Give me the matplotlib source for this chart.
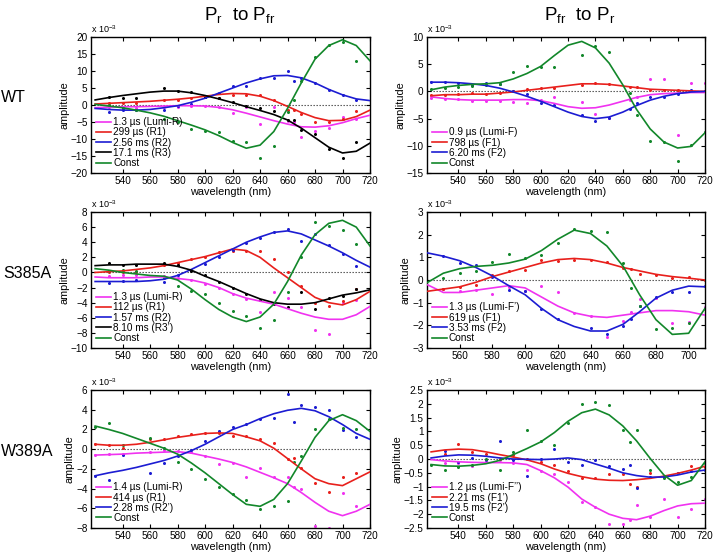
import numpy as np
import matplotlib
matplotlib.use('Agg')
import matplotlib.pyplot as plt

plt.rcParams['font.family'] = ['Liberation Sans', 'DejaVu Sans']
plt.rcParams['mathtext.fontset'] = 'custom'
plt.rcParams['mathtext.rm'] = 'Liberation Sans'

# ── fitted curves (x 1e-3), sampled every 10 nm ──
line_wl = [520, 530, 540, 550, 560, 570, 580, 590, 600, 610, 620,
           630, 640, 650, 660, 670, 680, 690, 700, 710, 720]
line_wl_s385a_rev = [540, 550, 560, 570, 580, 590, 600, 610, 620,
                     630, 640, 650, 660, 670, 680, 690, 700, 710]

wt_fwd_lines = [
    [-0.8, -0.6, -0.5, -0.5, -0.4, -0.3, -0.2, -0.2, -0.3, -0.7, -1.4, -2.4, -3.5, -4.6, -5.6, -6.4, -6.5, -6.1, -5.2, -4.0, -3.0],
    [0.3, 0.5, 0.7, 0.9, 1.1, 1.4, 1.7, 2.1, 2.6, 3.1, 3.4, 3.3, 2.6, 1.3, -0.4, -2.2, -3.7, -4.6, -4.5, -3.4, -1.5],
    [-1.0, -1.3, -1.5, -1.5, -1.3, -0.8, -0.2, 0.8, 2.0, 3.5, 5.0, 6.5, 7.7, 8.6, 8.7, 8.0, 6.5, 4.6, 3.0, 1.8, 1.3],
    [1.5, 2.2, 2.8, 3.3, 3.8, 4.1, 4.1, 3.6, 2.8, 1.8, 0.7, -0.5, -1.6, -2.8, -4.4, -6.8, -9.6, -12.4, -14.1, -13.6, -11.2],
    [0.2, -0.3, -0.8, -1.5, -2.3, -3.3, -4.6, -5.9, -7.3, -9.0, -11.0, -12.7, -11.8, -7.8, -1.0, 6.5, 13.5, 17.5, 19.2, 17.5, 13.0],
]
wt_rev_lines = [
    [-1.0, -1.3, -1.5, -1.6, -1.6, -1.6, -1.5, -1.5, -1.7, -2.2, -2.8, -3.1, -3.0, -2.5, -1.8, -1.1, -0.6, -0.4, -0.3, -0.2, -0.2],
    [-0.8, -0.6, -0.6, -0.5, -0.5, -0.3, -0.1, 0.2, 0.5, 0.8, 1.1, 1.4, 1.4, 1.3, 1.0, 0.7, 0.4, 0.3, 0.2, 0.1, 0.0],
    [1.7, 1.7, 1.6, 1.4, 1.1, 0.6, -0.1, -0.9, -1.8, -2.8, -3.8, -4.6, -5.0, -4.7, -3.8, -2.6, -1.6, -0.9, -0.4, -0.1, 0.0],
    [0.3, 0.8, 1.1, 1.3, 1.4, 1.6, 2.3, 3.3, 4.6, 6.6, 8.5, 9.2, 8.0, 5.2, 1.2, -3.3, -6.9, -9.3, -10.4, -10.1, -7.6],
]
s385a_fwd_lines = [
    [-0.6, -0.7, -0.7, -0.7, -0.6, -0.6, -0.8, -1.0, -1.4, -2.0, -2.8, -3.4, -3.8, -4.2, -4.8, -5.4, -5.9, -6.2, -6.2, -5.6, -4.5],
    [0.0, 0.1, 0.2, 0.4, 0.6, 0.9, 1.3, 1.7, 2.1, 2.6, 3.1, 2.9, 2.0, 0.6, -0.7, -2.0, -3.3, -4.0, -4.3, -3.6, -2.5],
    [-1.2, -1.2, -1.2, -1.2, -1.1, -0.9, -0.4, 0.4, 1.3, 2.2, 3.1, 4.0, 4.7, 5.3, 5.5, 5.1, 4.3, 3.5, 2.6, 1.6, 0.7],
    [0.9, 1.0, 1.0, 1.1, 1.1, 1.1, 0.8, 0.3, -0.5, -1.2, -2.0, -2.8, -3.5, -4.0, -4.2, -4.2, -4.0, -3.5, -3.0, -2.7, -2.3],
    [0.5, 0.3, 0.0, -0.2, -0.4, -0.5, -1.0, -2.2, -3.6, -4.9, -5.9, -6.5, -5.9, -4.2, -1.2, 2.3, 5.0, 6.5, 6.9, 6.0, 3.5],
]
s385a_rev_lines = [
    [-0.2, -0.55, -0.55, -0.45, -0.35, -0.25, -0.35, -0.75, -1.15, -1.45, -1.6, -1.65, -1.55, -1.45, -1.35, -1.35, -1.4, -1.55],
    [-0.5, -0.4, -0.3, -0.1, 0.15, 0.35, 0.55, 0.75, 0.9, 0.95, 0.9, 0.75, 0.55, 0.4, 0.25, 0.15, 0.08, 0.0],
    [1.2, 1.05, 0.85, 0.55, 0.18, -0.25, -0.65, -1.25, -1.75, -2.05, -2.25, -2.25, -1.95, -1.4, -0.8, -0.45, -0.27, -0.3],
    [-0.12, 0.3, 0.5, 0.6, 0.65, 0.75, 0.92, 1.3, 1.8, 2.2, 2.05, 1.5, 0.6, -0.65, -1.75, -2.4, -2.35, -1.25],
]
w389a_fwd_lines = [
    [-0.6, -0.55, -0.5, -0.4, -0.35, -0.3, -0.25, -0.4, -0.7, -1.0, -1.35, -1.8, -2.35, -2.9, -3.5, -4.4, -5.4, -6.3, -6.75, -6.3, -5.6],
    [0.5, 0.4, 0.4, 0.5, 0.7, 0.95, 1.2, 1.4, 1.6, 1.65, 1.6, 1.25, 0.85, 0.1, -0.95, -2.0, -3.0, -3.5, -3.7, -3.0, -2.3],
    [-2.7, -2.4, -2.15, -1.85, -1.5, -1.15, -0.7, -0.15, 0.5, 1.25, 2.0, 2.5, 3.1, 3.6, 3.95, 4.15, 3.9, 3.3, 2.5, 1.6, 1.0],
    [2.35, 2.0, 1.6, 1.1, 0.6, 0.1, -0.5, -1.4, -2.4, -3.5, -4.6, -5.6, -5.8, -5.1, -3.5, -1.2, 1.2, 2.9, 3.5, 2.9, 1.8],
]
w389a_rev_lines = [
    [-0.02, -0.07, -0.1, -0.12, -0.13, -0.13, -0.14, -0.2, -0.42, -0.68, -1.02, -1.45, -1.75, -2.0, -2.15, -2.2, -2.07, -1.87, -1.7, -1.62, -1.6],
    [0.26, 0.33, 0.36, 0.34, 0.26, 0.16, 0.07, -0.03, -0.17, -0.36, -0.52, -0.64, -0.73, -0.77, -0.78, -0.75, -0.7, -0.62, -0.52, -0.4, -0.26],
    [0.04, 0.11, 0.15, 0.14, 0.1, 0.04, 0.0, -0.01, -0.02, 0.0, 0.04, -0.02, -0.18, -0.33, -0.5, -0.6, -0.66, -0.65, -0.58, -0.47, -0.4],
    [-0.2, -0.25, -0.26, -0.23, -0.17, -0.05, 0.16, 0.38, 0.62, 0.96, 1.37, 1.68, 1.81, 1.6, 1.2, 0.66, 0.02, -0.58, -0.95, -0.78, -0.1],
]

# ── measured amplitudes (x 1e-3) ──
nan = np.nan
wt_fwd_wl = [530, 540, 550, 570, 580, 590, 600, 610, 620, 630, 640, 650, 660, 665, 670, 680, 690, 700, 710]
wt_fwd_pts = [
    [-0.5, -0.8, -1.0, -0.5, -0.5, -0.3, -0.3, -0.5, -2.2, -0.5, -5.7, -0.5, -4.8, -5.0, -9.3, -7.5, -6.8, -3.5, -4.0],
    [0.5, 0.5, 0.5, 1.5, 1.5, 2.0, 2.5, 2.0, 3.0, 3.0, 3.0, 1.5, -1.5, -1.5, -2.5, -5.0, -5.0, -4.0, -1.7],
    [-2.0, -1.5, -1.5, -1.5, -0.3, 0.3, 2.5, 3.5, 5.5, 5.5, 8.0, 8.0, 10.0, 7.0, 8.0, 6.5, 4.5, 3.0, 1.5],
    [2.5, 2.0, 2.0, 5.0, 4.0, 3.8, 2.5, 2.0, 1.0, -0.3, -0.8, -1.8, -4.5, -4.5, -7.3, -8.5, -13.0, -15.5, -11.0],
    [0.0, -1.0, -1.5, -4.0, -5.0, -7.0, -7.5, -8.0, -10.5, -11.0, -15.5, -12.0, -2.0, 1.5, 7.0, 14.0, 17.8, 18.5, 13.0],
]
wt_rev_wl = [520, 530, 540, 550, 560, 570, 580, 590, 600, 610, 630, 640, 650, 665, 670, 680, 690, 700, 710, 720]
wt_rev_pts = [
    [-1.2, -1.3, -1.3, -1.8, -1.8, -1.7, -1.9, -2.1, -1.5, -1.0, -2.0, -4.2, -4.8, -1.5, -1.0, 2.2, 2.2, -8.0, 1.5, 1.5],
    [-0.6, -0.6, -0.4, -0.2, -0.4, -0.2, 0.1, 0.5, 0.6, 0.7, 1.1, 1.5, 1.4, 0.9, 0.8, 0.3, 0.2, 0.3, 0.1, 0.0],
    [1.7, 1.7, 1.5, 1.1, 1.5, 1.3, 0.0, -0.4, -2.1, -2.5, -4.4, -5.4, -4.9, -3.3, -2.2, -1.1, -1.0, -0.5, 0.2, 0.0],
    [0.5, 0.6, 0.8, 1.0, 1.2, 1.4, 3.6, 4.6, 4.4, 4.5, 6.7, 8.4, 7.3, -0.3, -4.4, -9.2, -9.3, -12.8, -9.8, -7.4],
]
s385a_fwd_wl = [530, 540, 550, 570, 580, 590, 600, 610, 620, 630, 640, 650, 660, 670, 680, 690, 700, 710]
s385a_fwd_pts = [
    [-0.5, -0.4, -0.4, -0.5, -0.8, -1.0, -1.5, -2.0, -2.9, -3.5, -5.3, -2.6, -3.4, -4.6, -7.6, -8.1, -4.0, -3.7],
    [0.1, 0.1, 0.0, 1.0, 1.3, 1.8, 2.1, 2.7, 2.8, 2.8, 2.9, 1.8, 0.0, -1.8, -4.0, -4.5, -3.8, -2.2],
    [-1.4, -1.1, -1.0, -1.3, -0.4, 0.3, 1.1, 2.0, 3.0, 3.9, 4.6, 5.3, 5.8, 4.1, 5.1, 3.6, 2.4, 0.8],
    [1.2, 1.0, 1.0, 1.3, 1.0, 0.2, -0.4, -1.2, -2.0, -2.9, -3.7, -4.2, -4.6, -2.6, -4.8, -3.4, -3.1, -2.2],
    [0.2, 0.3, 0.2, -0.8, -1.8, -2.5, -2.9, -4.0, -5.1, -5.8, -7.4, -6.3, -2.6, 2.0, 6.7, 6.1, 5.6, 3.8],
]
s385a_rev_wl = [550, 560, 570, 580, 590, 600, 610, 620, 630, 640, 650, 660, 665, 670, 680, 690, 700, 710]
s385a_rev_pts = [
    [-0.4, -0.5, -0.45, -0.6, -0.3, -0.5, -0.25, -0.55, -1.45, -1.6, -2.5, -1.8, -1.4, -0.85, -0.8, -1.9, -1.85, -1.2],
    [-0.4, -0.3, -0.2, 0.2, 0.4, 0.45, 0.9, 0.85, 0.9, 0.9, 0.8, 0.55, 0.5, 0.25, 0.2, 0.1, 0.15, 0.0],
    [1.05, 0.75, 0.65, 0.15, -0.45, -0.5, -1.3, -1.7, nan, -2.1, -2.4, -2.05, -1.7, -1.15, -0.75, -0.55, -0.55, -0.25],
    [0.1, 0.3, 0.4, 0.8, 1.15, 0.95, 1.1, 1.65, 2.25, 2.15, 2.1, 0.75, -0.35, -1.15, -2.15, -2.1, -1.9, -1.3],
]
w389a_fwd_wl = [520, 530, 540, 560, 570, 580, 590, 600, 610, 620, 630, 640, 650, 660, 665, 670, 680, 690, 700, 710]
w389a_fwd_pts = [
    [-0.6, -0.5, -0.5, -0.3, -0.1, -0.2, -0.3, -0.7, -1.5, -1.4, -2.8, -1.9, -2.8, -2.8, -3.8, -4.0, -7.8, -8.0, -4.4, -5.8],
    [0.5, 0.4, 0.1, 1.0, 1.0, 1.3, 1.5, 1.6, 1.6, 1.3, 1.3, 1.0, 0.6, -1.0, -0.9, -1.9, -3.4, -4.3, -2.8, -2.4],
    [-2.7, -3.1, -0.6, -2.4, -1.4, -0.7, -0.1, 0.8, 1.8, 2.3, 2.6, 3.1, 3.2, 5.6, 2.8, 4.5, 4.3, 4.0, 1.9, 1.2],
    [2.3, 2.7, 0.4, 1.1, 0.1, -1.3, -2.0, -3.0, -3.8, -4.5, -5.2, -6.1, -5.8, -5.3, -1.3, -0.7, 2.0, 3.1, 2.2, 2.1],
]
w389a_rev_wl = [520, 530, 540, 550, 560, 570, 580, 590, 600, 610, 620, 630, 640, 650, 660, 665, 670, 680, 690, 700, 710, 720]
w389a_rev_pts = [
    [nan, -0.15, -0.15, -0.25, -0.05, -0.05, -0.15, -0.4, -0.45, -0.55, -0.85, -1.55, -1.75, -2.35, -2.35, -2.2, -1.65, -2.1, -1.45, -2.1, -1.8, -1.45],
    [nan, 0.2, 0.55, 0.25, 0.2, 0.0, 0.15, 0.0, -0.1, -0.2, -0.45, -0.7, -0.7, -0.55, -0.55, -0.9, -1.0, -0.5, -0.65, -0.5, -0.25, -0.3],
    [nan, 0.3, -0.1, 0.05, -0.05, 0.65, -0.05, -0.6, 0.0, 0.35, -0.1, -0.2, -0.05, -0.25, -0.35, -0.2, -1.05, -0.65, -0.65, -0.5, -0.45, -0.4],
    [-0.2, -0.4, -0.3, -0.2, 0.0, -0.4, 0.25, 1.05, 0.65, 0.5, 1.3, 2.0, 2.05, 1.95, 1.05, 0.6, 1.05, -0.4, -0.7, -0.85, -0.65, -0.15],
]

wt_fwd_labels = ['1.3 µs (Lumi-R)', '299 µs (R1)', '2.56 ms (R2)', '17.1 ms (R3)', 'Const']
wt_rev_labels = ['0.9 µs (Lumi-F)', '798 µs (F1)', '6.20 ms (F2)', 'Const']
s385a_fwd_labels = ['1.3 µs (Lumi-R)', '112 µs (R1)', '1.57 ms (R2)', '8.10 ms (R3\u2019)', 'Const']
s385a_rev_labels = ['1.3 µs (Lumi-F\u2019)', '619 µs (F1)', '3.53 ms (F2)', 'Const']
w389a_fwd_labels = ['1.4 µs (Lumi-R)', '414 µs (R1)', '2.28 ms (R2\u2019)', 'Const']
w389a_rev_labels = ['1.2 µs (Lumi-F\u2019\u2019)', '2.21 ms (F1\u2019)', '19.5 ms (F2\u2019)', 'Const']

MAG, RED, BLUE, BLACK, GREEN = '#f032f0', '#e8201c', '#1c1cd2', '#000000', '#12872a'
col_fwd5 = [MAG, RED, BLUE, BLACK, GREEN]
col4 = [MAG, RED, BLUE, GREEN]


def draw_panel(ax, lwl, lines, pwl, pts, labels, colors, xlim, ylim, yticks, xticks):
    ax.axhline(0, color='#444444', lw=0.8, ls=(0, (1.2, 1.5)), zorder=1)
    for ys, ps, lab, c in zip(lines, pts, labels, colors):
        ax.plot(lwl, ys, color=c, lw=1.2, label=lab, zorder=3)
        ax.plot(pwl, ps, 'o', color=c, ms=2.2, mec='none', zorder=2)
    ax.set_xlim(*xlim)
    ax.set_ylim(*ylim)
    ax.set_yticks(yticks)
    ax.set_xticks(xticks)
    ax.set_yticklabels([f'{t:g}'.replace('-', '\u2212') for t in yticks])
    ax.tick_params(direction='in', top=True, right=True, length=3,
                   labelsize=7.2, width=0.8, pad=2.5)
    for sp in ax.spines.values():
        sp.set_linewidth(1.0)
    ax.set_xlabel('wavelength (nm)', fontsize=7.8, labelpad=0.5)
    ax.set_ylabel('amplitude', fontsize=7.8, labelpad=1)
    ax.text(0.0, 1.012, r'x 10$^{\mathregular{-3}}$', transform=ax.transAxes,
            fontsize=6.5, ha='left', va='bottom')
    ax.legend(loc='lower left', frameon=False, fontsize=7.2, handlelength=1.5,
              handletextpad=0.2, labelspacing=0.02, borderaxespad=0.3,
              borderpad=0.2)


fig = plt.figure(figsize=(7.13, 5.56), dpi=100)
lx, rx = 91 / 713, 427 / 713
lw_, rw_ = 279 / 713, 278 / 713
rows = [(0.6888, 0.2446), (0.3741, 0.2446), (0.0504, 0.248)]

xt_full = list(range(540, 721, 20))
ax1 = fig.add_axes([lx, rows[0][0], lw_, rows[0][1]])
draw_panel(ax1, line_wl, wt_fwd_lines, wt_fwd_wl, wt_fwd_pts, wt_fwd_labels,
           col_fwd5, (517, 720), (-20, 20), list(range(-20, 21, 5)), xt_full)
ax2 = fig.add_axes([rx, rows[0][0], rw_, rows[0][1]])
draw_panel(ax2, line_wl, wt_rev_lines, wt_rev_wl, wt_rev_pts, wt_rev_labels,
           col4, (517, 720), (-15, 10), list(range(-15, 11, 5)), xt_full)
ax3 = fig.add_axes([lx, rows[1][0], lw_, rows[1][1]])
draw_panel(ax3, line_wl, s385a_fwd_lines, s385a_fwd_wl, s385a_fwd_pts, s385a_fwd_labels,
           col_fwd5, (517, 720), (-10, 8), list(range(-10, 9, 2)), xt_full)
ax4 = fig.add_axes([rx, rows[1][0], rw_, rows[1][1]])
draw_panel(ax4, line_wl_s385a_rev, s385a_rev_lines, s385a_rev_wl, s385a_rev_pts,
           s385a_rev_labels, col4, (540, 710), (-3, 3), list(range(-3, 4)),
           list(range(560, 701, 20)))
ax5 = fig.add_axes([lx, rows[2][0], lw_, rows[2][1]])
draw_panel(ax5, line_wl, w389a_fwd_lines, w389a_fwd_wl, w389a_fwd_pts, w389a_fwd_labels,
           col4, (517, 720), (-8, 6), list(range(-8, 7, 2)), xt_full)
ax6 = fig.add_axes([rx, rows[2][0], rw_, rows[2][1]])
draw_panel(ax6, line_wl, w389a_rev_lines, w389a_rev_wl, w389a_rev_pts, w389a_rev_labels,
           col4, (517, 720), (-2.5, 2.5), [-2.5, -2, -1.5, -1, -0.5, 0, 0.5, 1, 1.5, 2, 2.5],
           xt_full)

fig.text(240 / 713, 1 - 16 / 556, r'P$_\mathregular{r}$  to P$_\mathregular{fr}$',
         fontsize=13.5, ha='center', va='center')
fig.text(580 / 713, 1 - 16 / 556, r'P$_\mathregular{fr}$  to P$_\mathregular{r}$',
         fontsize=13.5, ha='center', va='center')
fig.text(13 / 713, 1 - 97 / 556, 'WT', fontsize=11.5, ha='center', va='center')
fig.text(27 / 713, 1 - 273 / 556, 'S385A', fontsize=11.5, ha='center', va='center')
fig.text(27 / 713, 1 - 452 / 556, 'W389A', fontsize=11.5, ha='center', va='center')

fig.savefig('out.png', dpi=100)
